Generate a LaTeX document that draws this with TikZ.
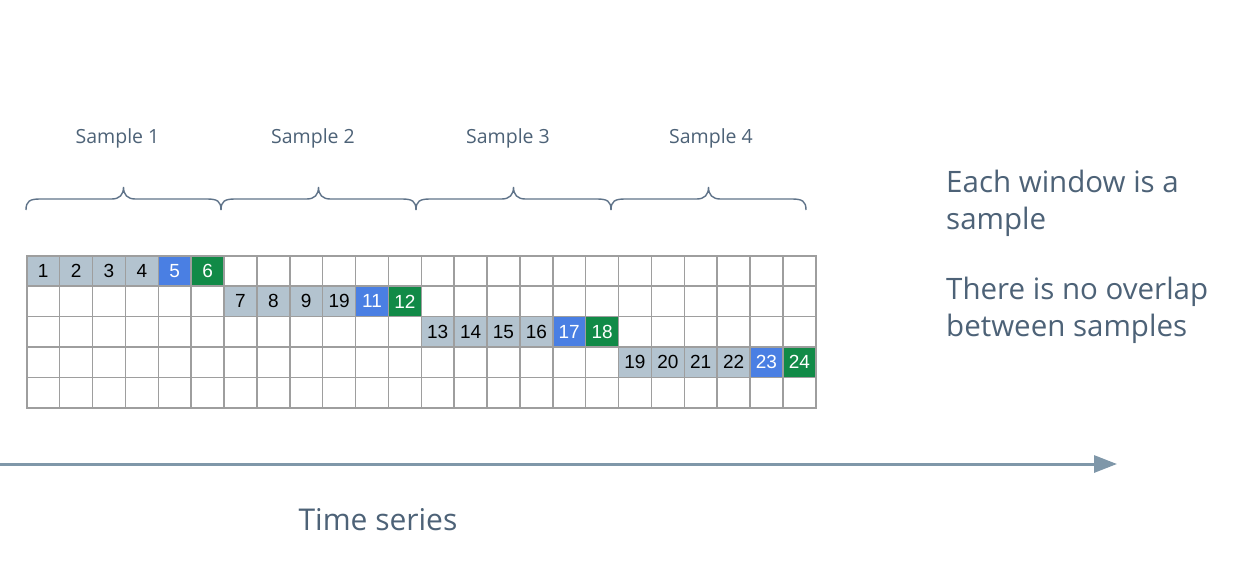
\documentclass[tikz,border=0pt]{standalone}
\usepackage{fontspec}
\setmainfont{Open Sans}
\newfontfamily\arialf{Liberation Sans}
\usetikzlibrary{arrows.meta}
\definecolor{txt}{HTML}{4D6277}
\definecolor{gridc}{HTML}{9E9E9E}
\definecolor{cellg}{HTML}{B3C3CF}
\definecolor{cellb}{HTML}{4A7FE3}
\definecolor{cellgr}{HTML}{118A47}
\definecolor{arrc}{HTML}{7F97A9}
\definecolor{brc}{HTML}{5F7389}
\begin{document}
\begin{tikzpicture}[x=1pt,y=-1pt,
  cell/.style={draw=gridc, line width=1.6pt, minimum width=32.875pt, minimum height=30.4pt, inner sep=0pt, anchor=north west},
  num/.style={cell, anchor=center, font=\arialf\fontsize{19}{22}\selectfont},
  gc/.style={num, fill=cellg, text=black},
  bc/.style={num, fill=cellb, text=white},
  grc/.style={num, fill=cellgr, text=white},
  brace/.style={draw=brc, line width=1.4pt},
  slabel/.style={text=txt, font=\fontsize{19.5}{22}\selectfont, anchor=base, inner sep=0pt},
  note/.style={text=txt, font=\fontsize{29.5}{36.5}\selectfont, align=left, anchor=north west, inner sep=0pt},
  axis/.style={draw=arrc, line width=3pt, -{Triangle[length=23pt,width=17pt]}}]
\useasboundingbox (0,0) rectangle (1233,573);
% grid
\foreach \r in {0,...,4}{
  \foreach \c in {0,...,23}{
    \node[cell] (g\r-\c) at ({26+\c*32.875},{255+\r*30.4}) {};
  }
}
% filled cells
\foreach \r/\c/\t/\s in {0/0/1/gc,0/1/2/gc,0/2/3/gc,0/3/4/gc,0/4/5/bc,0/5/6/grc,
  1/6/7/gc,1/7/8/gc,1/8/9/gc,1/9/19/gc,1/10/11/bc,1/11/12/grc,
  2/12/13/gc,2/13/14/gc,2/14/15/gc,2/15/16/gc,2/16/17/bc,2/17/18/grc,
  3/18/19/gc,3/19/20/gc,3/20/21/gc,3/21/22/gc,3/22/23/bc,3/23/24/grc}{
  \node[\s] (n\r-\c) at (g\r-\c.center) {\t};
}
% braces
\foreach \k in {0,...,3}{
  \pgfmathsetmacro{\xa}{26+195*\k}
  \pgfmathsetmacro{\xb}{\xa+195}
  \pgfmathsetmacro{\xm}{\xa+97.5}
  \draw[brace] (\xa,210) .. controls (\xa,201) and (\xa+4,199) .. (\xa+14,199)
    -- (\xm-12,199) .. controls (\xm-4,199) and (\xm,195) .. (\xm,187)
    .. controls (\xm,195) and (\xm+4,199) .. (\xm+12,199)
    -- (\xb-14,199) .. controls (\xb-4,199) and (\xb,201) .. (\xb,210);
}
\node[slabel] (s1) at (117.5,143) {Sample 1};
\node[slabel] (s2) at (313,143) {Sample 2};
\node[slabel] (s3) at (508,143) {Sample 3};
\node[slabel] (s4) at (711,143) {Sample 4};
% notes
\node[note] (note1) at (946,170) {Each window is a\\sample};
\node[note] (note2) at (946,277) {There is no overlap\\between samples};
% axis
\coordinate (tstart) at (0,464);
\coordinate (tend) at (1117,464);
\draw[axis] (tstart) -- (tend);
\node[text=txt, font=\fontsize{30}{34}\selectfont, anchor=base, inner sep=0pt] (ts) at (378,530) {Time series};
\end{tikzpicture}
\end{document}
